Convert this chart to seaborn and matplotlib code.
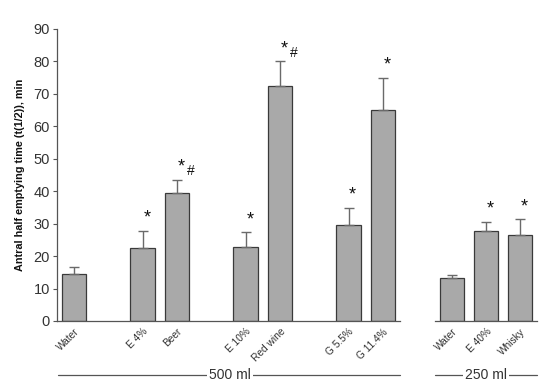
import matplotlib
matplotlib.use("Agg")
import matplotlib.pyplot as plt
import seaborn as sns
import numpy as np

sns.set_style("white")
plt.rcParams['font.family'] = ['Liberation Sans', 'DejaVu Sans']

# Data (500 ml panel)
left_order = ["Water", "gap1", "E 4%", "Beer", "gap2", "E 10%", "Red wine", "gap3", "G 5.5%", "G 11.4%"]
left_cats = ["Water", "E 4%", "Beer", "E 10%", "Red wine", "G 5.5%", "G 11.4%"]
left_means = [14.5, 22.5, 39.3, 22.8, 72.5, 29.5, 65.0]
left_err = [2.0, 5.3, 4.2, 4.5, 7.5, 5.3, 10.0]
left_marks = ["", "*", "*#", "*", "*#", "*", "*"]

# Data (250 ml panel)
right_cats = ["Water", "E 40%", "Whisky"]
right_means = [13.2, 27.8, 26.5]
right_err = [1.1, 2.7, 4.8]
right_marks = ["", "*", "*"]

yticks = [0, 10, 20, 30, 40, 50, 60, 70, 80, 90]
ylabel = "Antral half emptying time (t(1/2)), min"

BAR = "#a9a9a9"
EDGE = "#3a3a3a"
LINE = "#6a6a6a"
TXT = "#333333"

fig = plt.figure(figsize=(5.54, 3.84), dpi=100)
axL = fig.add_axes([57/554, 63/384, 343/554, 292/384])
axR = fig.add_axes([435/554, 63/384, 102/554, 292/384])


def draw(ax, cats, means, errs, marks, order):
    sns.barplot(x=cats, y=means, order=order, ax=ax, color=BAR, saturation=1,
                edgecolor=EDGE, linewidth=0.9, width=0.72, errorbar=None)
    pos = [order.index(c) for c in cats]
    ax.errorbar(pos, means, yerr=[np.zeros(len(errs)), errs], fmt="none",
                ecolor=LINE, elinewidth=1.0, capsize=3.5, capthick=1.0)
    for p, m, e, mk in zip(pos, means, errs, marks):
        top = m + e
        if "*" in mk:
            ax.annotate("*", xy=(p, top), xytext=(3, 3), textcoords="offset points",
                        ha="center", va="bottom", fontsize=13, color="#111111")
        if "#" in mk:
            ax.annotate("#", xy=(p, top), xytext=(10, 1), textcoords="offset points",
                        ha="center", va="bottom", fontsize=10, color="#111111")
    ax.set_ylim(0, 90)
    ax.set_xlim(-0.5, len(order) - 0.5)
    ax.set_xticks(range(len(order)))
    labels = ["" if o.startswith("gap") else o for o in order]
    ax.set_xticklabels(labels, rotation=45, ha="right", rotation_mode="anchor",
                       fontsize=7.3, color=TXT)
    ax.tick_params(axis="x", which="major", length=0, pad=4)
    ax.set_xticks(np.arange(0.5, len(order) - 0.4, 1.0), minor=True)
    ax.tick_params(axis="x", which="minor", length=3, color="#555555", width=0.8, direction="out")
    for s in ["top", "right"]:
        ax.spines[s].set_visible(False)
    ax.spines["bottom"].set_color("#555555")
    ax.spines["bottom"].set_linewidth(0.9)
    ax.set_xlabel("")


draw(axL, left_cats, left_means, left_err, left_marks, left_order)
draw(axR, right_cats, right_means, right_err, right_marks, right_cats)

axL.set_yticks(yticks)
axL.tick_params(axis="y", labelsize=10.5, labelcolor=TXT, length=3, direction="out",
                color="#555555", pad=2, left=True)
axL.spines["left"].set_color("#555555")
axL.spines["left"].set_linewidth(0.9)
axL.set_ylabel(ylabel, fontsize=7.8, fontweight="bold", labelpad=6, color="#111111")

axR.spines["left"].set_visible(False)
axR.set_yticks([])
axR.set_ylabel("")

# group labels
yline = 375 / 384
fig.add_artist(plt.Line2D([58/554, 400/554], [1 - yline, 1 - yline], color="#555555", lw=0.9))
fig.text(230/554, 1 - yline, "500 ml", ha="center", va="center", fontsize=10, color=TXT,
         bbox=dict(facecolor="white", edgecolor="none", pad=1.5))
fig.add_artist(plt.Line2D([435/554, 537/554], [1 - yline, 1 - yline], color="#555555", lw=0.9))
fig.text(486/554, 1 - yline, "250 ml", ha="center", va="center", fontsize=10, color=TXT,
         bbox=dict(facecolor="white", edgecolor="none", pad=1.5))

fig.savefig("out.png", dpi=100)
